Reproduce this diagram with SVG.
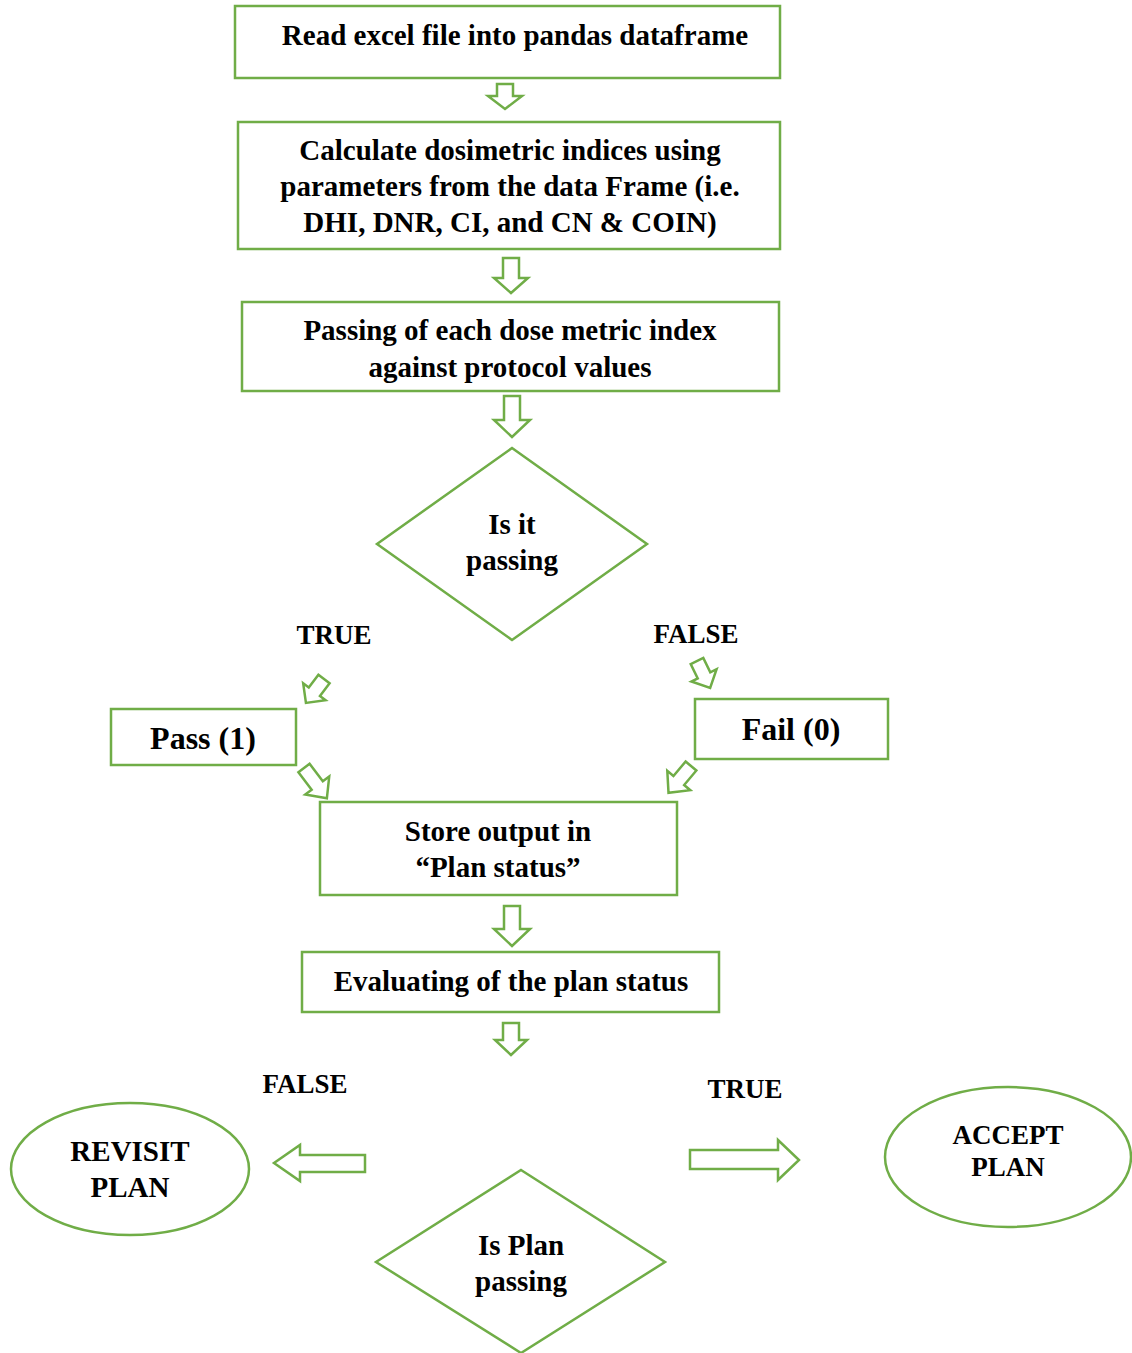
<svg xmlns="http://www.w3.org/2000/svg" width="1132" height="1353" viewBox="0 0 1132 1353">
<style>
.b{fill:#fff;stroke:#70AD47;stroke-width:2.5}
.a{fill:#fff;stroke:#70AD47;stroke-width:2.5;stroke-linejoin:miter}
text{font-family:"Liberation Serif","Times New Roman",serif;font-weight:bold;font-size:29px;fill:#000;text-anchor:middle}
.big{font-size:32px}
.lbl{font-size:27px}
</style>
<rect width="1132" height="1353" fill="#fff"/>
<g id="n1"><rect class="b" x="235" y="6" width="545" height="72"/><text x="515" y="45">Read excel file into pandas dataframe</text></g>
<g id="n2"><rect class="b" x="238" y="122" width="542" height="127"/><text x="510" y="160">Calculate dosimetric indices using</text><text x="510" y="196">parameters from the data Frame (i.e.</text><text x="510" y="232">DHI, DNR, CI, and CN &amp; COIN)</text></g>
<g id="n3"><rect class="b" x="242" y="302" width="537" height="89"/><text x="510" y="340">Passing of each dose metric index</text><text x="510" y="377">against protocol values</text></g>
<g id="d1"><polygon class="b" points="512,448 647,544 512,640 377,544"/><text x="512" y="534">Is it</text><text x="512" y="570">passing</text></g>
<g id="pass"><rect class="b" x="111" y="709" width="185" height="56"/><text class="big" x="203" y="749">Pass (1)</text></g>
<g id="fail"><rect class="b" x="695" y="699" width="193" height="60"/><text class="big" x="791" y="740">Fail (0)</text></g>
<g id="n4"><rect class="b" x="320" y="802" width="357" height="93"/><text x="498" y="841">Store output in</text><text x="498" y="877">“Plan status”</text></g>
<g id="n5"><rect class="b" x="302" y="952" width="417" height="60"/><text x="511" y="991">Evaluating of the plan status</text></g>
<g id="revisit"><ellipse class="b" cx="130" cy="1169" rx="119" ry="66"/><text x="130" y="1161">REVISIT</text><text x="130" y="1197">PLAN</text></g>
<g id="accept"><ellipse class="b" cx="1008" cy="1157" rx="123" ry="70"/><text class="lbl" x="1008" y="1144">ACCEPT</text><text class="lbl" x="1008" y="1176">PLAN</text></g>
<g id="d2"><polygon class="b" points="521,1170 665,1262 521,1353 376,1262"/><text x="521" y="1255">Is Plan</text><text x="521" y="1291">passing</text></g>
<g id="labels">
<text class="lbl" x="334" y="644">TRUE</text>
<text class="lbl" x="696" y="643">FALSE</text>
<text class="lbl" x="305" y="1093">FALSE</text>
<text class="lbl" x="745" y="1098">TRUE</text>
</g>
<g id="connectors">
<polygon class="a" transform="translate(505,84)" points="-8,0 8,0 8,12 17,12 0,25 -17,12 -8,12"/>
<polygon class="a" transform="translate(511,258)" points="-8,0 8,0 8,20 17,20 0,35 -17,20 -8,20"/>
<polygon class="a" transform="translate(512,396)" points="-8,0 8,0 8,24 18,24 0,41 -18,24 -8,24"/>
<polygon class="a" transform="translate(512,906)" points="-8,0 8,0 8,23 18,23 0,40 -18,23 -8,23"/>
<polygon class="a" transform="translate(511,1023)" points="-8,0 8,0 8,17 16,17 0,32 -16,17 -8,17"/>
<polygon class="a" transform="translate(324,679) rotate(37)" points="-7,0 7,0 7,16 14,16 0,30 -14,16 -7,16"/>
<polygon class="a" transform="translate(304,768) rotate(-37)" points="-7,0 7,0 7,22 15,22 0,38 -15,22 -7,22"/>
<polygon class="a" transform="translate(697,661) rotate(-26)" points="-7,0 7,0 7,16 14,16 0,30 -14,16 -7,16"/>
<polygon class="a" transform="translate(691,766) rotate(40)" points="-7,0 7,0 7,19 15,19 0,35 -15,19 -7,19"/>
<polygon class="a" points="365,1155 300,1155 300,1145 274,1163 300,1181 300,1172 365,1172"/>
<polygon class="a" points="690,1150 778,1150 778,1140 799,1160 778,1180 778,1169 690,1169"/>
</g>
</svg>
